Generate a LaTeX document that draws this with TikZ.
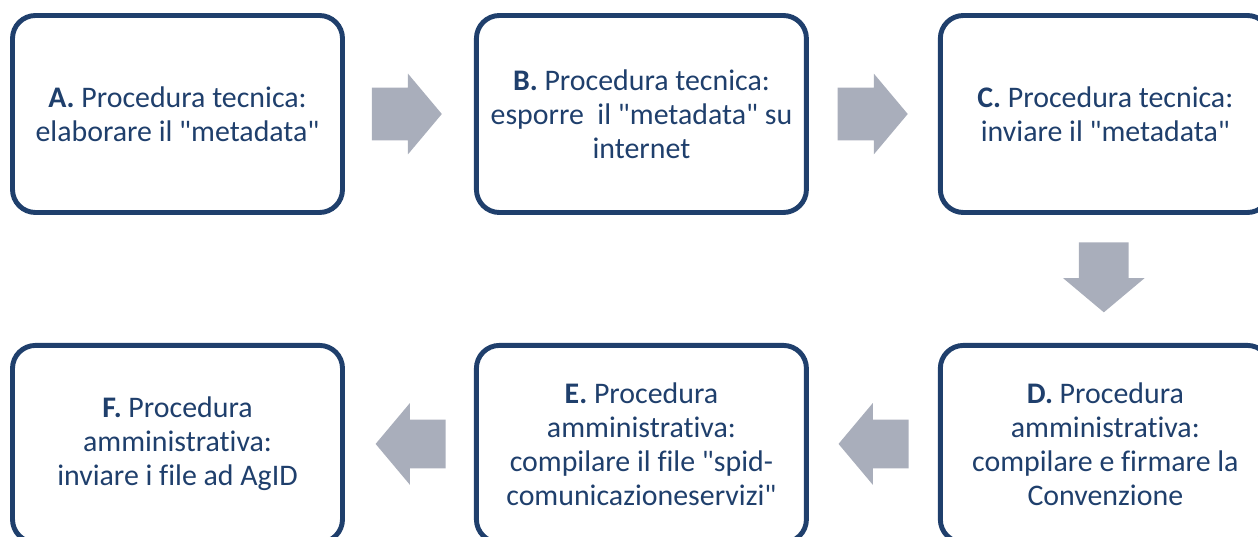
\documentclass[tikz,border=0pt]{standalone}
\usepackage{fontspec}
\setmainfont{Carlito}[Ligatures=NoCommon]
\usepackage{xcolor}
\usetikzlibrary{positioning, calc, shapes.arrows}

\definecolor{boxblue}{HTML}{1F3F6C}
\definecolor{arrowgray}{HTML}{A9AEBB}
\newcommand{\qmark}{\textquotedbl}

\begin{document}
\begin{tikzpicture}[
    stepbox/.style={rectangle, rounded corners=0.46cm, draw=boxblue, line width=2.8pt,
      minimum width=6.6cm, minimum height=3.94cm, align=center, text=boxblue,
      font=\fontsize{17}{19.4}\selectfont},
    flow/.style={single arrow, fill=arrowgray, draw=none, inner xsep=0pt, anchor=tail,
      minimum height=1.4cm, single arrow tip angle=100, single arrow head indent=0cm},
    node distance=2.58cm]

      \useasboundingbox (0,0) rectangle (25.16,-10.74);

      % Obere Reihe
      \node[stepbox] (stepA) at (3.55,-2.28) {\textbf{A.} Procedura tecnica:\\elaborare il \qmark metadata\qmark};
      \node[stepbox, right=of stepA] (stepB) {\textbf{B.} Procedura tecnica:\\esporre\ \ il \qmark metadata\qmark{} su\\internet};
      \node[stepbox, right=of stepB] (stepC) {\textbf{C.} Procedura tecnica:\\inviare il \qmark metadata\qmark};

      % Untere Reihe
      \node[stepbox, below=2.56cm of stepC] (stepD) {\textbf{D.} Procedura\\amministrativa:\\compilare e firmare la\\Convenzione};
      \node[stepbox, left=of stepD] (stepE) {\textbf{E.} Procedura\\amministrativa:\\compilare il file \qmark spid-\\comunicazioneservizi\qmark};
      \node[stepbox, left=of stepE] (stepF) {\textbf{F.} Procedura\\amministrativa:\\inviare i file ad AgID};

      % Pfeile
      \node[flow, inner ysep=0.52cm, single arrow head extend=0.28cm] (arrAB) at ($(stepA.east)!0.5!(stepB.west)+(-0.76,0)$) {};
      \node[flow, inner ysep=0.52cm, single arrow head extend=0.28cm] (arrBC) at ($(stepB.east)!0.5!(stepC.west)+(-0.72,0)$) {};
      \node[flow, inner ysep=0.49cm, single arrow head extend=0.32cm, rotate=-90] (arrCD) at ($(stepC.south)!0.5!(stepD.north)+(-0.03,0.74)$) {};
      \node[flow, inner ysep=0.48cm, single arrow head extend=0.33cm, rotate=180] (arrDE) at ($(stepD.west)!0.5!(stepE.east)+(0.71,0)$) {};
      \node[flow, inner ysep=0.48cm, single arrow head extend=0.33cm, rotate=180] (arrEF) at ($(stepE.west)!0.5!(stepF.east)+(0.73,0)$) {};

      \end{tikzpicture}
\end{document}
